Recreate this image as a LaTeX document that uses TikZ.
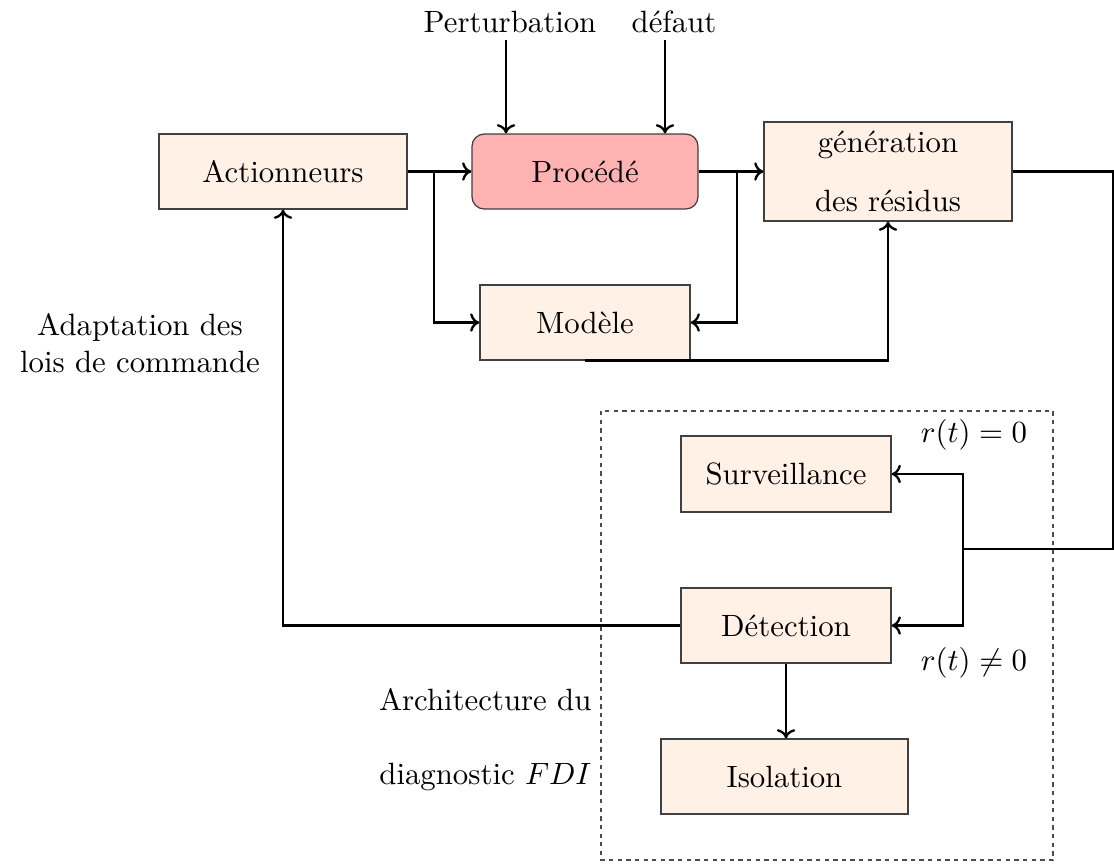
\documentclass[tikz,border=0pt]{standalone}
\usepackage{fontspec}
\usetikzlibrary{arrows.meta}
\definecolor{boxfill}{RGB}{255,241,230}
\definecolor{procfill}{RGB}{255,178,178}
\begin{document}
\begin{tikzpicture}[x=0.3247pt,y=-0.3247pt,
  blk/.style={draw=black!75, fill=boxfill, inner sep=0pt, align=center},
  conn/.style={line width=0.75pt},
  arr/.style={line width=0.75pt, -{To[length=3pt,width=6pt]}},
  lbl/.style={inner sep=0pt}]
\useasboundingbox (0,0) rectangle (1114,864);
% boxes
\node[blk, minimum width=80.5pt, minimum height=24.35pt] (act) at (283,171.5) {Actionneurs};
\node[blk, fill=procfill, rounded corners=4pt, minimum width=73.4pt, minimum height=24.35pt] (proc) at (585,171.5) {Procédé};
\node[blk, minimum width=80.5pt, minimum height=32.1pt] (gen) at (888,171.5) {génération\\[7pt]des résidus};
\node[blk, minimum width=68.2pt, minimum height=24.35pt] (mod) at (585,322.5) {Modèle};
\node[blk, minimum width=68.2pt, minimum height=24.7pt] (surv) at (786,474) {Surveillance};
\node[blk, minimum width=68.2pt, minimum height=24.35pt] (det) at (786,625.5) {Détection};
\node[blk, minimum width=80.2pt, minimum height=24.35pt] (iso) at (784.5,776.5) {Isolation};
% dashed frame
\draw[black!70, line width=0.4pt, dash pattern=on 1.4pt off 1.4pt] (601,411) rectangle (1053,860);
% labels
\node[lbl] (pert) at (510,22) {Perturbation};
\node[lbl] (def) at (674,22) {défaut};
\node[align=center, inner sep=0pt] (adapt) at (140,343) {Adaptation des\\lois de commande};
\node[lbl, anchor=east] (arch1) at (592,700) {Architecture du};
\node[lbl, anchor=east] (arch2) at (592,777) {diagnostic $FDI$};
\node[lbl] (r0) at (974,435) {$r(t)=0$};
\node[lbl] (r1) at (974,663) {$r(t)\neq 0$};
% coordinates
\coordinate (p1) at (506,40);
\coordinate (d1) at (665,40);
\coordinate (b1) at (434,171.5);
\coordinate (b2) at (737,171.5);
\coordinate (c2) at (1113,549);
\coordinate (c3) at (963,549);
% connectors
\draw[arr] (p1) -- (p1 |- proc.north);
\draw[arr] (d1) -- (d1 |- proc.north);
\draw[arr] (act.east) -- (proc.west);
\draw[arr] (b1) |- (mod.west);
\draw[arr] (proc.east) -- (gen.west);
\draw[arr] (b2) |- (mod.east);
\draw[arr] (mod.south) -| (gen.south);
\draw[conn] (gen.east) -| (c2) -- (c3);
\draw[arr] (c3) |- (surv.east);
\draw[arr] (c3) |- (det.east);
\draw[arr] (det.west) -| (act.south);
\draw[arr] (det.south) -- (det.south |- iso.north);
\end{tikzpicture}
\end{document}
